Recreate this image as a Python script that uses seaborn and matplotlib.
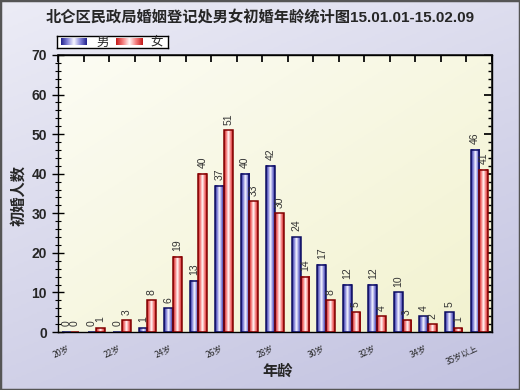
import numpy as np
import pandas as pd
import seaborn as sns
import matplotlib.pyplot as plt
from matplotlib.colors import LinearSegmentedColormap
from matplotlib.patches import Rectangle

# data
ages = ['20岁', '21岁', '22岁', '23岁', '24岁', '25岁', '26岁', '27岁', '28岁',
        '29岁', '30岁', '31岁', '32岁', '33岁', '34岁', '35岁', '35岁以上']
male = [0, 0, 0, 1, 6, 13, 37, 40, 42, 24, 17, 12, 12, 10, 4, 5, 46]
female = [0, 1, 3, 8, 19, 40, 51, 33, 30, 14, 8, 5, 4, 3, 2, 1, 41]
shown = ['20岁', '22岁', '24岁', '26岁', '28岁', '30岁', '32岁', '34岁', '35岁以上']

df = pd.DataFrame({'年龄': ages * 2,
                   '人数': male + female,
                   '性别': ['男'] * len(ages) + ['女'] * len(ages)})

sns.set_theme(style='white')
plt.rcParams['font.family'] = ['Noto Sans CJK SC', 'DejaVu Sans']
latin = ['Liberation Sans', 'Noto Sans CJK SC']

fig = plt.figure(figsize=(5.2, 3.9), dpi=100)

# lavender background
bg = fig.add_axes([0, 0, 1, 1], zorder=-5)
bg.axis('off')
yy, xx = np.mgrid[0:1:200j, 0:1:200j]
bg.imshow(0.65 * yy + 0.35 * xx, aspect='auto', extent=[0, 1, 0, 1],
          cmap=LinearSegmentedColormap.from_list('bg', ['#ececf6', '#c2c2e0']))

ax = fig.add_axes([58 / 520, 1 - 332 / 390, 434 / 520, 277 / 390])
ax.set_facecolor('none')

sns.barplot(data=df, x='年龄', y='人数', hue='性别', hue_order=['男', '女'],
            palette={'男': '#1c1c80', '女': '#b01010'}, width=0.68,
            legend=False, ax=ax)

# cream plot area
ax.imshow(0.5 * yy + 0.5 * xx, aspect='auto', extent=[-0.5, 16.5, 0, 70], zorder=0,
          cmap=LinearSegmentedColormap.from_list('pa', ['#fcfcf4', '#f2f2cf']))

grad = np.abs(np.linspace(-1, 1, 40))[None, :]
cmaps = [LinearSegmentedColormap.from_list('b', ['#f2f2ff', '#8484d8', '#262690']),
         LinearSegmentedColormap.from_list('r', ['#fff4f4', '#f47a7a', '#c41c1c'])]
edges = ['#0c0c60', '#800000']
for cont, cm, ec in zip(ax.containers, cmaps, edges):
    for p in cont:
        x0, w, h = p.get_x(), p.get_width(), p.get_height()
        if h > 0:
            ax.imshow(grad, aspect='auto', cmap=cm, extent=[x0, x0 + w, 0, h], zorder=2)
        p.set_facecolor('none')
        p.set_edgecolor(ec)
        p.set_linewidth(1.1)
        p.set_zorder(3)
    ax.bar_label(cont, rotation=90, padding=4, fontsize=7.5, color='#333333',
                 family=latin)

ax.set_xlim(-0.5, 16.5)
ax.set_ylim(0, 70)

bounds = np.arange(-0.5, 17, 1)
ax.set_xticks(bounds, labels=[''] * len(bounds))
ax.set_xticks(range(len(ages)), minor=True,
              labels=[a if a in shown else '' for a in ages])
ax.tick_params(axis='x', which='major', direction='inout', length=7, width=1, color='black')
ax.tick_params(axis='x', which='minor', length=0, labelsize=6, pad=8)
for t in ax.get_xticklabels(minor=True):
    t.set_rotation(25)
    t.set_ha('right')

ax.set_yticks(range(0, 71, 10))
ax.set_yticks(range(0, 71, 2), minor=True)
ax.tick_params(axis='y', which='major', direction='inout', length=9, width=1,
               color='black', labelsize=10, left=True)
ax.tick_params(axis='y', which='minor', direction='inout', length=5, width=0.8,
               color='black', left=True)
for t in ax.get_yticklabels():
    t.set_fontweight('bold')
    t.set_family(latin)

secy = ax.secondary_yaxis('right')
secy.set_yticks(range(0, 71, 10))
secy.set_yticks(range(0, 71, 2), minor=True)
secy.tick_params(which='major', direction='in', length=6, color='black', labelright=False)
secy.tick_params(which='minor', direction='in', length=3, color='black')

secx = ax.secondary_xaxis('top')
secx.set_xticks(bounds)
secx.tick_params(direction='in', length=5, color='black', labeltop=False)

for s in list(ax.spines.values()):
    s.set_color('black')
    s.set_linewidth(1)

ax.set_xlabel('')
ax.set_ylabel('')
fig.text(18 / 520, 1 - 195 / 390, '初婚人数', rotation=90, ha='center', va='center',
         fontsize=11, fontweight='bold')
fig.text(278 / 520, 1 - 371 / 390, '年龄', ha='center', va='center',
         fontsize=11, fontweight='bold')
fig.text(0.5, 1 - 17 / 390, '北仑区民政局婚姻登记处男女初婚年龄统计图15.01.01-15.02.09',
         ha='center', va='center', fontsize=11, fontweight='bold', family=latin)

# legend box
lg = fig.add_axes([57 / 520, 1 - 48 / 390, 111 / 520, 12 / 390])
lg.set_xticks([])
lg.set_yticks([])
lg.set_facecolor('white')
for s in lg.spines.values():
    s.set_color('black')
    s.set_linewidth(1)
for x0, cm, name, tx in [(4, cmaps[0], '男', 46), (59, cmaps[1], '女', 100)]:
    lg.imshow(grad, aspect='auto', cmap=cm, extent=[x0, x0 + 26, 2.5, 9.5])
    lg.text(tx, 6, name, ha='center', va='center', fontsize=9)
lg.set_xlim(0, 111)
lg.set_ylim(0, 12)

fig.add_artist(Rectangle((0, 0), 1, 1, transform=fig.transFigure, fill=False,
                         ec='#555555', lw=2.5))

fig.savefig('out.png', dpi=100)
